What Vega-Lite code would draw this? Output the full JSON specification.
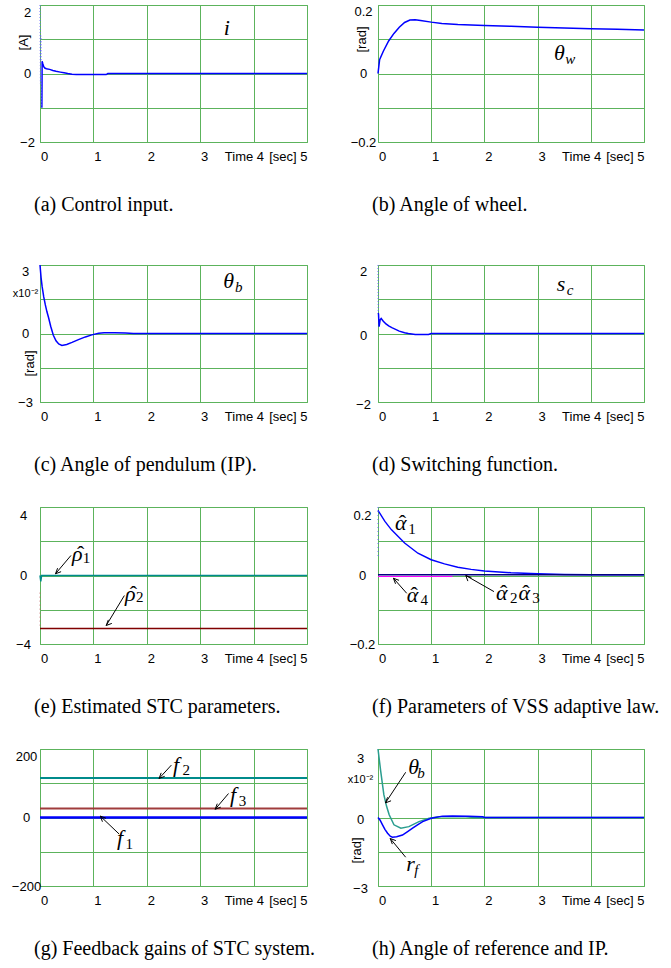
{
  "$schema": "https://vega.github.io/schema/vega-lite/v6.json",
  "background": "white",
  "padding": {"left": 10, "top": 2, "right": 5, "bottom": 5},
  "datasets": {
    "series": [
      {"p":"a","s":"i","t":0.035,"v":-1.0},{"p":"a","s":"i","t":0.04,"v":0.36},{"p":"a","s":"i","t":0.05,"v":0.3},{"p":"a","s":"i","t":0.07,"v":0.2},{"p":"a","s":"i","t":0.09,"v":0.16},{"p":"a","s":"i","t":0.12,"v":0.14},{"p":"a","s":"i","t":0.18,"v":0.12},{"p":"a","s":"i","t":0.24,"v":0.09},{"p":"a","s":"i","t":0.3,"v":0.065},{"p":"a","s":"i","t":0.38,"v":0.04},{"p":"a","s":"i","t":0.45,"v":0.02},{"p":"a","s":"i","t":0.52,"v":0.0},{"p":"a","s":"i","t":0.6,"v":-0.02},{"p":"a","s":"i","t":0.68,"v":-0.03},{"p":"a","s":"i","t":1.0,"v":-0.03},{"p":"a","s":"i","t":1.24,"v":-0.03},{"p":"a","s":"i","t":1.27,"v":0.0},{"p":"a","s":"i","t":5.0,"v":0.0},
      {"p":"a","s":"i_ch","t":0.0,"v":2.0},{"p":"a","s":"i_ch","t":0.008,"v":-0.3},{"p":"a","s":"i_ch","t":0.016,"v":1.1},{"p":"a","s":"i_ch","t":0.024,"v":-1.0},{"p":"a","s":"i_ch","t":0.03,"v":0.3},
      {"p":"b","s":"thw","t":0.0,"v":0.0},{"p":"b","s":"thw","t":0.03,"v":0.04},{"p":"b","s":"thw","t":0.1,"v":0.065},{"p":"b","s":"thw","t":0.2,"v":0.095},{"p":"b","s":"thw","t":0.3,"v":0.117},{"p":"b","s":"thw","t":0.4,"v":0.135},{"p":"b","s":"thw","t":0.5,"v":0.149},{"p":"b","s":"thw","t":0.6,"v":0.156},{"p":"b","s":"thw","t":0.7,"v":0.157},{"p":"b","s":"thw","t":0.8,"v":0.155},{"p":"b","s":"thw","t":1.0,"v":0.15},{"p":"b","s":"thw","t":1.2,"v":0.146},{"p":"b","s":"thw","t":1.5,"v":0.143},{"p":"b","s":"thw","t":2.0,"v":0.14},{"p":"b","s":"thw","t":2.5,"v":0.138},{"p":"b","s":"thw","t":3.0,"v":0.135},{"p":"b","s":"thw","t":3.5,"v":0.133},{"p":"b","s":"thw","t":4.0,"v":0.131},{"p":"b","s":"thw","t":4.5,"v":0.129},{"p":"b","s":"thw","t":5.0,"v":0.127},
      {"p":"c","s":"thb","t":0.0,"v":3.0},{"p":"c","s":"thb","t":0.02,"v":2.45},{"p":"c","s":"thb","t":0.04,"v":2.05},{"p":"c","s":"thb","t":0.07,"v":1.6},{"p":"c","s":"thb","t":0.1,"v":1.25},{"p":"c","s":"thb","t":0.13,"v":0.95},{"p":"c","s":"thb","t":0.16,"v":0.7},{"p":"c","s":"thb","t":0.2,"v":0.32},{"p":"c","s":"thb","t":0.25,"v":-0.08},{"p":"c","s":"thb","t":0.3,"v":-0.32},{"p":"c","s":"thb","t":0.35,"v":-0.46},{"p":"c","s":"thb","t":0.41,"v":-0.52},{"p":"c","s":"thb","t":0.5,"v":-0.48},{"p":"c","s":"thb","t":0.6,"v":-0.39},{"p":"c","s":"thb","t":0.72,"v":-0.27},{"p":"c","s":"thb","t":0.85,"v":-0.15},{"p":"c","s":"thb","t":0.97,"v":-0.06},{"p":"c","s":"thb","t":1.1,"v":0.01},{"p":"c","s":"thb","t":1.2,"v":0.03},{"p":"c","s":"thb","t":1.4,"v":0.03},{"p":"c","s":"thb","t":1.6,"v":0.02},{"p":"c","s":"thb","t":1.75,"v":0.0},{"p":"c","s":"thb","t":5.0,"v":0.0},
      {"p":"d","s":"sc","t":0.005,"v":0.6},{"p":"d","s":"sc","t":0.01,"v":0.56},{"p":"d","s":"sc","t":0.02,"v":0.2},{"p":"d","s":"sc","t":0.04,"v":0.4},{"p":"d","s":"sc","t":0.06,"v":0.44},{"p":"d","s":"sc","t":0.1,"v":0.36},{"p":"d","s":"sc","t":0.15,"v":0.28},{"p":"d","s":"sc","t":0.2,"v":0.22},{"p":"d","s":"sc","t":0.26,"v":0.17},{"p":"d","s":"sc","t":0.33,"v":0.12},{"p":"d","s":"sc","t":0.4,"v":0.07},{"p":"d","s":"sc","t":0.5,"v":0.02},{"p":"d","s":"sc","t":0.57,"v":0.0},{"p":"d","s":"sc","t":0.7,"v":-0.03},{"p":"d","s":"sc","t":0.95,"v":-0.03},{"p":"d","s":"sc","t":1.0,"v":0.0},{"p":"d","s":"sc","t":5.0,"v":0.0},
      {"p":"d","s":"sc_ch","t":0.0,"v":2.0},{"p":"d","s":"sc_ch","t":0.003,"v":1.0},{"p":"d","s":"sc_ch","t":0.005,"v":0.6},
      {"p":"e","s":"rho1","t":0.0,"v":0.0},{"p":"e","s":"rho1","t":0.015,"v":-0.35},{"p":"e","s":"rho1","t":0.03,"v":0.0},{"p":"e","s":"rho1","t":5.0,"v":0.0},
      {"p":"e","s":"rho2","t":0.0,"v":-3.1},{"p":"e","s":"rho2","t":5.0,"v":-3.1},
      {"p":"e","s":"rho2_ch","t":0.0,"v":-1.0},{"p":"e","s":"rho2_ch","t":0.002,"v":-3.1},
      {"p":"f","s":"a1","t":0.0,"v":0.19},{"p":"f","s":"a1","t":0.13,"v":0.158},{"p":"f","s":"a1","t":0.25,"v":0.134},{"p":"f","s":"a1","t":0.5,"v":0.095},{"p":"f","s":"a1","t":0.75,"v":0.065},{"p":"f","s":"a1","t":1.0,"v":0.046},{"p":"f","s":"a1","t":1.25,"v":0.034},{"p":"f","s":"a1","t":1.5,"v":0.024},{"p":"f","s":"a1","t":1.75,"v":0.018},{"p":"f","s":"a1","t":2.0,"v":0.013},{"p":"f","s":"a1","t":2.5,"v":0.008},{"p":"f","s":"a1","t":3.0,"v":0.005},{"p":"f","s":"a1","t":3.5,"v":0.003},{"p":"f","s":"a1","t":4.0,"v":0.002},{"p":"f","s":"a1","t":5.0,"v":0.002},
      {"p":"f","s":"a1_ch","t":0.0,"v":0.2},{"p":"f","s":"a1_ch","t":0.002,"v":0.05},
      {"p":"f","s":"a23","t":0.0,"v":0.002},{"p":"f","s":"a23","t":5.0,"v":0.002},
      {"p":"f","s":"a4","t":0.0,"v":-0.003},{"p":"f","s":"a4","t":1.4,"v":-0.003},
      {"p":"g","s":"f2","t":0.0,"v":115},{"p":"g","s":"f2","t":5.0,"v":115},
      {"p":"g","s":"f3","t":0.0,"v":26},{"p":"g","s":"f3","t":5.0,"v":26},
      {"p":"g","s":"f1","t":0.0,"v":0},{"p":"g","s":"f1","t":5.0,"v":0},
      {"p":"h","s":"thb_h","t":0.0,"v":3.0},{"p":"h","s":"thb_h","t":0.05,"v":2.04},{"p":"h","s":"thb_h","t":0.11,"v":1.0},{"p":"h","s":"thb_h","t":0.16,"v":0.5},{"p":"h","s":"thb_h","t":0.21,"v":0.12},{"p":"h","s":"thb_h","t":0.3,"v":-0.32},{"p":"h","s":"thb_h","t":0.43,"v":-0.47},{"p":"h","s":"thb_h","t":0.58,"v":-0.4},{"p":"h","s":"thb_h","t":0.77,"v":-0.18},{"p":"h","s":"thb_h","t":0.96,"v":-0.03},{"p":"h","s":"thb_h","t":1.15,"v":0.03},{"p":"h","s":"thb_h","t":1.65,"v":0.03},{"p":"h","s":"thb_h","t":1.8,"v":0.0},{"p":"h","s":"thb_h","t":5.0,"v":0.0},
      {"p":"h","s":"rf","t":0.0,"v":0.0},{"p":"h","s":"rf","t":0.04,"v":-0.12},{"p":"h","s":"rf","t":0.08,"v":-0.3},{"p":"h","s":"rf","t":0.13,"v":-0.52},{"p":"h","s":"rf","t":0.18,"v":-0.69},{"p":"h","s":"rf","t":0.23,"v":-0.82},{"p":"h","s":"rf","t":0.27,"v":-0.86},{"p":"h","s":"rf","t":0.35,"v":-0.84},{"p":"h","s":"rf","t":0.46,"v":-0.77},{"p":"h","s":"rf","t":0.55,"v":-0.63},{"p":"h","s":"rf","t":0.65,"v":-0.47},{"p":"h","s":"rf","t":0.75,"v":-0.31},{"p":"h","s":"rf","t":0.84,"v":-0.18},{"p":"h","s":"rf","t":1.0,"v":-0.03},{"p":"h","s":"rf","t":1.21,"v":0.06},{"p":"h","s":"rf","t":1.4,"v":0.07},{"p":"h","s":"rf","t":1.7,"v":0.06},{"p":"h","s":"rf","t":1.97,"v":0.03},{"p":"h","s":"rf","t":2.0,"v":0.0},{"p":"h","s":"rf","t":5.0,"v":0.0}
    ],
    "labels": [
      {"p":"a","t":3.44,"v":1.12,"txt":"i","part":"m"},
      {"p":"b","t":3.31,"v":0.039,"txt":"θ","part":"m"},{"p":"b","t":3.52,"v":0.028,"txt":"w","part":"s"},
      {"p":"c","t":3.43,"v":1.99,"txt":"θ","part":"m"},{"p":"c","t":3.65,"v":1.8,"txt":"b","part":"s"},
      {"p":"d","t":3.36,"v":1.25,"txt":"s","part":"m"},{"p":"d","t":3.55,"v":1.12,"txt":"c","part":"s"},
      {"p":"e","t":0.6,"v":0.82,"txt":"ρ","part":"m"},{"p":"e","t":0.76,"v":0.82,"txt":"ˆ","part":"h"},{"p":"e","t":0.8,"v":0.72,"txt":"1","part":"d"},
      {"p":"e","t":1.59,"v":-1.46,"txt":"ρ","part":"m"},{"p":"e","t":1.75,"v":-1.46,"txt":"ˆ","part":"h"},{"p":"e","t":1.8,"v":-1.55,"txt":"2","part":"d"},
      {"p":"f","t":0.32,"v":0.133,"txt":"α","part":"m"},{"p":"f","t":0.46,"v":0.133,"txt":"ˆ","part":"h"},{"p":"f","t":0.57,"v":0.122,"txt":"1","part":"d"},
      {"p":"f","t":0.54,"v":-0.076,"txt":"α","part":"m"},{"p":"f","t":0.68,"v":-0.076,"txt":"ˆ","part":"h"},{"p":"f","t":0.8,"v":-0.086,"txt":"4","part":"d"},
      {"p":"f","t":2.22,"v":-0.071,"txt":"α","part":"m"},{"p":"f","t":2.36,"v":-0.071,"txt":"ˆ","part":"h"},{"p":"f","t":2.48,"v":-0.081,"txt":"2","part":"d"},
      {"p":"f","t":2.64,"v":-0.071,"txt":"α","part":"m"},{"p":"f","t":2.78,"v":-0.071,"txt":"ˆ","part":"h"},{"p":"f","t":2.9,"v":-0.081,"txt":"3","part":"d"},
      {"p":"g","t":2.49,"v":134,"txt":"f","part":"m"},{"p":"g","t":2.67,"v":123,"txt":"2","part":"d"},
      {"p":"g","t":3.56,"v":45,"txt":"f","part":"m"},{"p":"g","t":3.72,"v":35,"txt":"3","part":"d"},
      {"p":"g","t":1.44,"v":-81,"txt":"f","part":"m"},{"p":"g","t":1.6,"v":-92,"txt":"1","part":"d"},
      {"p":"h","t":0.57,"v":1.89,"txt":"θ","part":"m"},{"p":"h","t":0.74,"v":1.72,"txt":"b","part":"s"},
      {"p":"h","t":0.53,"v":-2.34,"txt":"r","part":"m"},{"p":"h","t":0.68,"v":-2.5,"txt":"f","part":"s"}
    ],
    "arrows": [
      {"p":"e","t":0.29,"v":0.1,"t2":0.58,"v2":1.17},{"p":"e","t":1.24,"v":-2.92,"t2":1.58,"v2":-1.17},
      {"p":"f","t":0.29,"v":-0.008,"t2":0.54,"v2":-0.052},{"p":"f","t":1.65,"v":0.0,"t2":2.18,"v2":-0.047},
      {"p":"g","t":2.23,"v":114,"t2":2.46,"v2":153},{"p":"g","t":3.28,"v":24,"t2":3.53,"v2":70},{"p":"g","t":1.13,"v":4,"t2":1.48,"v2":-48},
      {"p":"h","t":0.14,"v":0.64,"t2":0.52,"v2":1.98},{"p":"h","t":0.23,"v":-0.92,"t2":0.52,"v2":-1.74}
    ]
  },
  "vconcat": [
    {"hconcat": [
      {"width": 267, "height": 137, "title": {"text": "(a) Control input."},
       "encoding": {
         "x": {"field": "t", "type": "quantitative", "scale": {"domain": [0, 5], "nice": false, "zero": false}, "axis": {"values": [0,1,2,3,4,5], "title": null, "format": "d", "labelPadding": 8, "labelExpr": "datum.value==4 ? 'Time  4' : datum.value==5 ? '[sec] 5' : datum.label", "labelAlign": {"condition": {"test": "datum.value>=4", "value": "right"}, "value": "center"}, "labelOffset": {"condition": [{"test": "datum.value==4", "value": 10}, {"test": "datum.value==5", "value": 0}], "value": 4}}},
         "y": {"field": "v", "type": "quantitative", "scale": {"domain": [-2, 2], "nice": false, "zero": false}, "axis": {"values": [-2,-1,0,1,2], "labelPadding": 13, "labelExpr": "abs(datum.value)==1 ? '' : datum.label", "labelOffset": {"condition": {"test": "datum.value==2", "value": 7}, "value": 0}, "title": "[A]", "titleX": -17, "titleY": 37, "titleAngle": 270, "titleAlign": "center", "titleBaseline": "middle"}}
       },
       "layer": [
         {"data": {"name": "series"}, "transform": [{"filter": "datum.p=='a' && indexof(datum.s,'_ch')<0"}], "mark": {"type": "line", "strokeWidth": 1.5}, "encoding": {"color": {"field": "s", "type": "nominal", "legend": null, "scale": {"domain": ["i","thw","thb","sc","rho1","rho2","a1","a23","a4","f1","f2","f3","thb_h","rf","i_ch","sc_ch","a1_ch","rho2_ch"], "range": ["#0000ff","#0000ff","#0000ff","#0000ff","#008b8b","#800000","#0000ff","#000080","#ff00ff","#0000ff","#008b8b","#a03c3c","#2a9d8f","#0000ff","#6060ff","#6060ff","#6060ff","#c06060"]}}}},
         {"data": {"name": "series"}, "transform": [{"filter": "datum.p=='a' && indexof(datum.s,'_ch')>=0"}], "mark": {"type": "line", "strokeWidth": 1, "strokeDash": [1, 2]}, "encoding": {"color": {"field": "s", "type": "nominal", "legend": null}}},
         {"data": {"name": "labels"}, "transform": [{"filter": "datum.p=='a' && datum.part=='m'"}], "mark": {"type": "text", "font": "Liberation Serif", "fontStyle": "italic", "fontSize": 22, "align": "left", "baseline": "alphabetic", "color": "black"}, "encoding": {"text": {"field": "txt"}}}
       ]},
      {"width": 266, "height": 137, "title": {"text": "(b) Angle of wheel."},
       "encoding": {
         "x": {"field": "t", "type": "quantitative", "scale": {"domain": [0, 5], "nice": false, "zero": false}, "axis": {"values": [0,1,2,3,4,5], "title": null, "format": "d", "labelPadding": 8, "labelExpr": "datum.value==4 ? 'Time  4' : datum.value==5 ? '[sec] 5' : datum.label", "labelAlign": {"condition": {"test": "datum.value>=4", "value": "right"}, "value": "center"}, "labelOffset": {"condition": [{"test": "datum.value==4", "value": 10}, {"test": "datum.value==5", "value": 0}], "value": 4}}},
         "y": {"field": "v", "type": "quantitative", "scale": {"domain": [-0.2, 0.2], "nice": false, "zero": false}, "axis": {"values": [-0.2,-0.1,0,0.1,0.2], "labelPadding": 15, "labelExpr": "abs(datum.value)==0.1 ? '' : datum.label", "labelOffset": {"condition": {"test": "datum.value==0.2", "value": 6}, "value": 0}, "title": "[rad]", "titleX": -17, "titleY": 34, "titleAngle": 270, "titleAlign": "center", "titleBaseline": "middle"}}
       },
       "layer": [
         {"data": {"name": "series"}, "transform": [{"filter": "datum.p=='b'"}], "mark": {"type": "line", "strokeWidth": 1.5}, "encoding": {"color": {"field": "s", "type": "nominal", "legend": null}}},
         {"data": {"name": "labels"}, "transform": [{"filter": "datum.p=='b' && datum.part=='m'"}], "mark": {"type": "text", "font": "Liberation Serif", "fontStyle": "italic", "fontSize": 22, "align": "left", "baseline": "alphabetic", "color": "black"}, "encoding": {"text": {"field": "txt"}}},
         {"data": {"name": "labels"}, "transform": [{"filter": "datum.p=='b' && datum.part=='s'"}], "mark": {"type": "text", "font": "Liberation Serif", "fontStyle": "italic", "fontSize": 15, "align": "left", "baseline": "alphabetic", "color": "black"}, "encoding": {"text": {"field": "txt"}}}
       ]}
    ], "spacing": 71, "bounds": "flush"},
    {"vconcat": [
      {"hconcat": [
        {"width": 267, "height": 137, "title": {"text": "(c) Angle of pendulum (IP)."},
         "encoding": {
           "x": {"field": "t", "type": "quantitative", "scale": {"domain": [0, 5], "nice": false, "zero": false}, "axis": {"values": [0,1,2,3,4,5], "title": null, "format": "d", "labelPadding": 8, "labelExpr": "datum.value==4 ? 'Time  4' : datum.value==5 ? '[sec] 5' : datum.label", "labelAlign": {"condition": {"test": "datum.value>=4", "value": "right"}, "value": "center"}, "labelOffset": {"condition": [{"test": "datum.value==4", "value": 10}, {"test": "datum.value==5", "value": 0}], "value": 4}}},
           "y": {"field": "v", "type": "quantitative", "scale": {"domain": [-3, 3], "nice": false, "zero": false}, "axis": {"values": [-3,-1.5,0,1.5,3], "labelPadding": 15, "labelExpr": "datum.value==1.5 ? 'x10⁻²' : datum.value==-1.5 ? '' : datum.label", "labelFontSize": {"condition": {"test": "datum.value==1.5", "value": 11}, "value": 13}, "labelOffset": {"condition": [{"test": "datum.value==3", "value": 6}, {"test": "datum.value==1.5", "value": -6}], "value": 0}, "title": "[rad]", "titleX": -11, "titleY": 98, "titleAngle": 270, "titleAlign": "center", "titleBaseline": "middle"}}
         },
         "layer": [
           {"data": {"name": "series"}, "transform": [{"filter": "datum.p=='c'"}], "mark": {"type": "line", "strokeWidth": 1.5}, "encoding": {"color": {"field": "s", "type": "nominal", "legend": null}}},
           {"data": {"name": "labels"}, "transform": [{"filter": "datum.p=='c' && datum.part=='m'"}], "mark": {"type": "text", "font": "Liberation Serif", "fontStyle": "italic", "fontSize": 22, "align": "left", "baseline": "alphabetic", "color": "black"}, "encoding": {"text": {"field": "txt"}}},
           {"data": {"name": "labels"}, "transform": [{"filter": "datum.p=='c' && datum.part=='s'"}], "mark": {"type": "text", "font": "Liberation Serif", "fontStyle": "italic", "fontSize": 15, "align": "left", "baseline": "alphabetic", "color": "black"}, "encoding": {"text": {"field": "txt"}}}
         ]},
        {"width": 266, "height": 137, "title": {"text": "(d) Switching function."},
         "encoding": {
           "x": {"field": "t", "type": "quantitative", "scale": {"domain": [0, 5], "nice": false, "zero": false}, "axis": {"values": [0,1,2,3,4,5], "title": null, "format": "d", "labelPadding": 8, "labelExpr": "datum.value==4 ? 'Time  4' : datum.value==5 ? '[sec] 5' : datum.label", "labelAlign": {"condition": {"test": "datum.value>=4", "value": "right"}, "value": "center"}, "labelOffset": {"condition": [{"test": "datum.value==4", "value": 10}, {"test": "datum.value==5", "value": 0}], "value": 4}}},
           "y": {"field": "v", "type": "quantitative", "scale": {"domain": [-2, 2], "nice": false, "zero": false}, "axis": {"values": [-2,-1,0,1,2], "labelPadding": 15, "labelExpr": "abs(datum.value)==1 ? '' : datum.label", "labelOffset": {"condition": {"test": "datum.value==2", "value": 6}, "value": 2}, "title": null}}
         },
         "layer": [
           {"data": {"name": "series"}, "transform": [{"filter": "datum.p=='d' && indexof(datum.s,'_ch')<0"}], "mark": {"type": "line", "strokeWidth": 1.5}, "encoding": {"color": {"field": "s", "type": "nominal", "legend": null}}},
           {"data": {"name": "series"}, "transform": [{"filter": "datum.p=='d' && indexof(datum.s,'_ch')>=0"}], "mark": {"type": "line", "strokeWidth": 1, "strokeDash": [1, 2]}, "encoding": {"color": {"field": "s", "type": "nominal", "legend": null}}},
           {"data": {"name": "labels"}, "transform": [{"filter": "datum.p=='d' && datum.part=='m'"}], "mark": {"type": "text", "font": "Liberation Serif", "fontStyle": "italic", "fontSize": 22, "align": "left", "baseline": "alphabetic", "color": "black"}, "encoding": {"text": {"field": "txt"}}},
           {"data": {"name": "labels"}, "transform": [{"filter": "datum.p=='d' && datum.part=='s'"}], "mark": {"type": "text", "font": "Liberation Serif", "fontStyle": "italic", "fontSize": 15, "align": "left", "baseline": "alphabetic", "color": "black"}, "encoding": {"text": {"field": "txt"}}}
         ]}
      ], "spacing": 71, "bounds": "flush"},
      {"hconcat": [
        {"width": 267, "height": 137, "title": {"text": "(e) Estimated STC parameters."},
         "encoding": {
           "x": {"field": "t", "type": "quantitative", "scale": {"domain": [0, 5], "nice": false, "zero": false}, "axis": {"values": [0,1,2,3,4,5], "title": null, "format": "d", "labelPadding": 8, "labelExpr": "datum.value==4 ? 'Time  4' : datum.value==5 ? '[sec] 5' : datum.label", "labelAlign": {"condition": {"test": "datum.value>=4", "value": "right"}, "value": "center"}, "labelOffset": {"condition": [{"test": "datum.value==4", "value": 10}, {"test": "datum.value==5", "value": 0}], "value": 4}}},
           "y": {"field": "v", "type": "quantitative", "scale": {"domain": [-4, 4], "nice": false, "zero": false}, "axis": {"values": [-4,-2,0,2,4], "labelPadding": 17, "labelExpr": "abs(datum.value)==2 ? '' : datum.label", "labelOffset": {"condition": {"test": "datum.value==4", "value": 8}, "value": 0}, "title": null}}
         },
         "layer": [
           {"data": {"name": "series"}, "transform": [{"filter": "datum.p=='e' && indexof(datum.s,'_ch')<0"}], "mark": {"type": "line", "strokeWidth": 1.5}, "encoding": {"color": {"field": "s", "type": "nominal", "legend": null}}},
           {"data": {"name": "series"}, "transform": [{"filter": "datum.p=='e' && indexof(datum.s,'_ch')>=0"}], "mark": {"type": "line", "strokeWidth": 1, "strokeDash": [1, 3]}, "encoding": {"color": {"field": "s", "type": "nominal", "legend": null}}},
           {"data": {"name": "arrows"}, "transform": [{"filter": "datum.p=='e'"}], "mark": {"type": "rule", "color": "black", "strokeWidth": 1}, "encoding": {"x2": {"field": "t2"}, "y2": {"field": "v2"}}},
           {"data": {"name": "arrows"}, "transform": [{"filter": "datum.p=='e'"}], "mark": {"type": "point", "filled": false, "color": "black", "strokeWidth": 1, "size": 49, "opacity": 1}, "encoding": {"shape": {"condition": {"test": "datum.v2 > datum.v", "value": "M1.6,-0.6L0,0L0.6,-1.6"}, "value": "M1.6,0.6L0,0L0.6,1.6"}}},
           {"data": {"name": "labels"}, "transform": [{"filter": "datum.p=='e' && datum.part=='m'"}], "mark": {"type": "text", "font": "Liberation Serif", "fontStyle": "italic", "fontSize": 22, "align": "left", "baseline": "alphabetic", "color": "black"}, "encoding": {"text": {"field": "txt"}}},
           {"data": {"name": "labels"}, "transform": [{"filter": "datum.p=='e' && datum.part=='h'"}], "mark": {"type": "text", "font": "Liberation Serif", "fontSize": 22, "align": "center", "baseline": "alphabetic", "color": "black"}, "encoding": {"text": {"field": "txt"}}},
           {"data": {"name": "labels"}, "transform": [{"filter": "datum.p=='e' && datum.part=='d'"}], "mark": {"type": "text", "font": "Liberation Serif", "fontSize": 15, "align": "left", "baseline": "alphabetic", "color": "black"}, "encoding": {"text": {"field": "txt"}}}
         ]},
        {"width": 266, "height": 137, "title": {"text": "(f) Parameters of VSS adaptive law."},
         "encoding": {
           "x": {"field": "t", "type": "quantitative", "scale": {"domain": [0, 5], "nice": false, "zero": false}, "axis": {"values": [0,1,2,3,4,5], "title": null, "format": "d", "labelPadding": 8, "labelExpr": "datum.value==4 ? 'Time  4' : datum.value==5 ? '[sec] 5' : datum.label", "labelAlign": {"condition": {"test": "datum.value>=4", "value": "right"}, "value": "center"}, "labelOffset": {"condition": [{"test": "datum.value==4", "value": 10}, {"test": "datum.value==5", "value": 0}], "value": 4}}},
           "y": {"field": "v", "type": "quantitative", "scale": {"domain": [-0.2, 0.2], "nice": false, "zero": false}, "axis": {"values": [-0.2,-0.1,0,0.1,0.2], "labelPadding": 16, "labelExpr": "abs(datum.value)==0.1 ? '' : datum.label", "labelOffset": {"condition": {"test": "datum.value==0.2", "value": 8}, "value": 0}, "title": null}}
         },
         "layer": [
           {"data": {"name": "series"}, "transform": [{"filter": "datum.p=='f' && indexof(datum.s,'_ch')<0"}], "mark": {"type": "line"}, "encoding": {"color": {"field": "s", "type": "nominal", "legend": null}, "strokeWidth": {"condition": {"test": "datum.s=='a4'", "value": 1}, "value": 1.4}}},
           {"data": {"name": "series"}, "transform": [{"filter": "datum.p=='f' && indexof(datum.s,'_ch')>=0"}], "mark": {"type": "line", "strokeWidth": 1, "strokeDash": [1, 3]}, "encoding": {"color": {"field": "s", "type": "nominal", "legend": null}}},
           {"data": {"name": "arrows"}, "transform": [{"filter": "datum.p=='f'"}], "mark": {"type": "rule", "color": "black", "strokeWidth": 1}, "encoding": {"x2": {"field": "t2"}, "y2": {"field": "v2"}}},
           {"data": {"name": "arrows"}, "transform": [{"filter": "datum.p=='f'"}], "mark": {"type": "point", "filled": false, "color": "black", "strokeWidth": 1, "size": 49, "opacity": 1}, "encoding": {"shape": {"condition": {"test": "datum.v2 > datum.v", "value": "M1.6,-0.6L0,0L0.6,-1.6"}, "value": "M1.6,0.6L0,0L0.6,1.6"}}},
           {"data": {"name": "labels"}, "transform": [{"filter": "datum.p=='f' && datum.part=='m'"}], "mark": {"type": "text", "font": "Liberation Serif", "fontStyle": "italic", "fontSize": 22, "align": "left", "baseline": "alphabetic", "color": "black"}, "encoding": {"text": {"field": "txt"}}},
           {"data": {"name": "labels"}, "transform": [{"filter": "datum.p=='f' && datum.part=='h'"}], "mark": {"type": "text", "font": "Liberation Serif", "fontSize": 22, "align": "center", "baseline": "alphabetic", "color": "black"}, "encoding": {"text": {"field": "txt"}}},
           {"data": {"name": "labels"}, "transform": [{"filter": "datum.p=='f' && datum.part=='d'"}], "mark": {"type": "text", "font": "Liberation Serif", "fontSize": 15, "align": "left", "baseline": "alphabetic", "color": "black"}, "encoding": {"text": {"field": "txt"}}}
         ]}
      ], "spacing": 71, "bounds": "flush"},
      {"hconcat": [
        {"width": 267, "height": 137, "title": {"text": "(g) Feedback gains of STC system."},
         "encoding": {
           "x": {"field": "t", "type": "quantitative", "scale": {"domain": [0, 5], "nice": false, "zero": false}, "axis": {"values": [0,1,2,3,4,5], "title": null, "format": "d", "labelPadding": 8, "labelExpr": "datum.value==4 ? 'Time  4' : datum.value==5 ? '[sec] 5' : datum.label", "labelAlign": {"condition": {"test": "datum.value>=4", "value": "right"}, "value": "center"}, "labelOffset": {"condition": [{"test": "datum.value==4", "value": 10}, {"test": "datum.value==5", "value": 0}], "value": 4}}},
           "y": {"field": "v", "type": "quantitative", "scale": {"domain": [-200, 200], "nice": false, "zero": false}, "axis": {"values": [-200,-100,0,100,200], "labelPadding": 14, "format": "~r", "labelExpr": "abs(datum.value)==100 ? '' : datum.label", "labelOffset": {"condition": {"test": "datum.value==200", "value": 7}, "value": 0}, "title": null}}
         },
         "layer": [
           {"data": {"name": "series"}, "transform": [{"filter": "datum.p=='g'"}], "mark": {"type": "line"}, "encoding": {"color": {"field": "s", "type": "nominal", "legend": null}, "strokeWidth": {"condition": {"test": "datum.s=='f1'", "value": 2.5}, "value": 2}}},
           {"data": {"name": "arrows"}, "transform": [{"filter": "datum.p=='g'"}], "mark": {"type": "rule", "color": "black", "strokeWidth": 1}, "encoding": {"x2": {"field": "t2"}, "y2": {"field": "v2"}}},
           {"data": {"name": "arrows"}, "transform": [{"filter": "datum.p=='g'"}], "mark": {"type": "point", "filled": false, "color": "black", "strokeWidth": 1, "size": 49, "opacity": 1}, "encoding": {"shape": {"condition": {"test": "datum.v2 > datum.v", "value": "M1.6,-0.6L0,0L0.6,-1.6"}, "value": "M1.6,0.6L0,0L0.6,1.6"}}},
           {"data": {"name": "labels"}, "transform": [{"filter": "datum.p=='g' && datum.part=='m'"}], "mark": {"type": "text", "font": "Liberation Serif", "fontStyle": "italic", "fontSize": 22, "align": "left", "baseline": "alphabetic", "color": "black"}, "encoding": {"text": {"field": "txt"}}},
           {"data": {"name": "labels"}, "transform": [{"filter": "datum.p=='g' && datum.part=='d'"}], "mark": {"type": "text", "font": "Liberation Serif", "fontSize": 15, "align": "left", "baseline": "alphabetic", "color": "black"}, "encoding": {"text": {"field": "txt"}}}
         ]},
        {"width": 266, "height": 137, "title": {"text": "(h) Angle of reference and IP."},
         "encoding": {
           "x": {"field": "t", "type": "quantitative", "scale": {"domain": [0, 5], "nice": false, "zero": false}, "axis": {"values": [0,1,2,3,4,5], "title": null, "format": "d", "labelPadding": 8, "labelExpr": "datum.value==4 ? 'Time  4' : datum.value==5 ? '[sec] 5' : datum.label", "labelAlign": {"condition": {"test": "datum.value>=4", "value": "right"}, "value": "center"}, "labelOffset": {"condition": [{"test": "datum.value==4", "value": 10}, {"test": "datum.value==5", "value": 0}], "value": 4}}},
           "y": {"field": "v", "type": "quantitative", "scale": {"domain": [-3, 3], "nice": false, "zero": false}, "axis": {"values": [-3,-1.5,0,1.5,3], "labelPadding": 18, "labelExpr": "datum.value==1.5 ? 'x10⁻²' : datum.value==-1.5 ? '' : datum.label", "labelFontSize": {"condition": {"test": "datum.value==1.5", "value": 11}, "value": 13}, "labelOffset": {"condition": [{"test": "datum.value==3", "value": 9}, {"test": "datum.value==1.5", "value": -4}], "value": 2}, "title": "[rad]", "titleX": -22, "titleY": 101, "titleAngle": 270, "titleAlign": "center", "titleBaseline": "middle"}}
         },
         "layer": [
           {"data": {"name": "series"}, "transform": [{"filter": "datum.p=='h'"}], "mark": {"type": "line", "strokeWidth": 1.5}, "encoding": {"color": {"field": "s", "type": "nominal", "legend": null}}},
           {"data": {"name": "arrows"}, "transform": [{"filter": "datum.p=='h'"}], "mark": {"type": "rule", "color": "black", "strokeWidth": 1}, "encoding": {"x2": {"field": "t2"}, "y2": {"field": "v2"}}},
           {"data": {"name": "arrows"}, "transform": [{"filter": "datum.p=='h'"}], "mark": {"type": "point", "filled": false, "color": "black", "strokeWidth": 1, "size": 49, "opacity": 1}, "encoding": {"shape": {"condition": {"test": "datum.v2 > datum.v", "value": "M1.6,-0.6L0,0L0.6,-1.6"}, "value": "M1.6,0.6L0,0L0.6,1.6"}}},
           {"data": {"name": "labels"}, "transform": [{"filter": "datum.p=='h' && datum.part=='m'"}], "mark": {"type": "text", "font": "Liberation Serif", "fontStyle": "italic", "fontSize": 22, "align": "left", "baseline": "alphabetic", "color": "black"}, "encoding": {"text": {"field": "txt"}}},
           {"data": {"name": "labels"}, "transform": [{"filter": "datum.p=='h' && datum.part=='s'"}], "mark": {"type": "text", "font": "Liberation Serif", "fontStyle": "italic", "fontSize": 15, "align": "left", "baseline": "alphabetic", "color": "black"}, "encoding": {"text": {"field": "txt"}}}
         ]}
      ], "spacing": 71, "bounds": "flush"}
    ], "spacing": 242, "bounds": "flush"}
  ],
  "spacing": 260,
  "bounds": "flush",
  "config": {
    "view": {"stroke": "#5cb35c", "strokeWidth": 1},
    "axis": {"domain": false, "ticks": false, "grid": true, "gridColor": "#5cb35c", "gridWidth": 1, "gridOpacity": 1, "labelFont": "Liberation Sans", "labelFontSize": 13, "labelColor": "black", "titleFont": "Liberation Sans", "titleFontSize": 13, "titleFontWeight": "normal", "titleColor": "black", "labelOverlap": false, "labelBound": false},
    "axisY": {"labelAlign": "center", "labelBaseline": "middle", "format": "~r"},
    "title": {"orient": "bottom", "anchor": "start", "frame": "group", "offset": 32, "dx": -6, "font": "Liberation Serif", "fontSize": 20, "fontWeight": "normal", "color": "black"}
  }
}
